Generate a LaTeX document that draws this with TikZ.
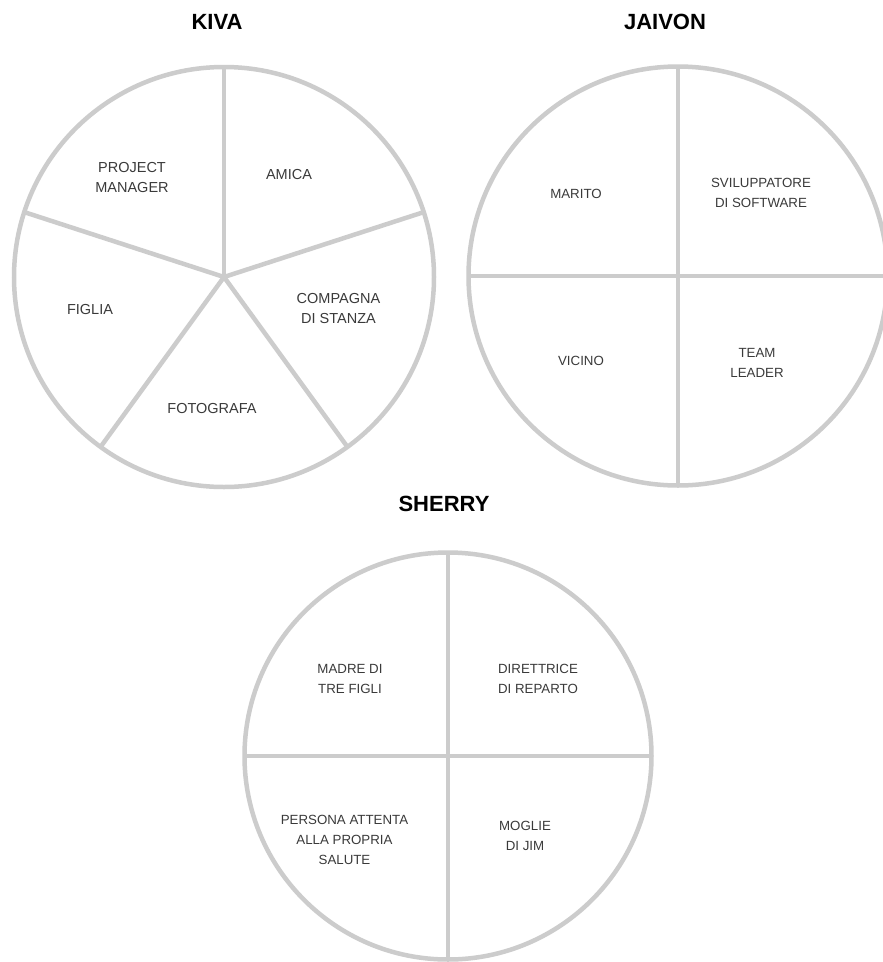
\documentclass[tikz,border=0pt]{standalone}
\usepackage{fontspec}
\usetikzlibrary{calc}
\setmainfont{Liberation Sans}
\definecolor{ringgray}{HTML}{CCCCCC}
\definecolor{labelgray}{HTML}{3A3A3A}
\tikzset{
  ring/.style={draw=ringgray, line width=4.5pt},
  spoke/.style={draw=ringgray, line width=4.5pt},
  titletext/.style={font=\fontsize{22}{26}\selectfont\bfseries, text=black, inner sep=0pt},
  biglabel/.style={font=\fontsize{14.5}{20}\selectfont, text=labelgray, align=center, inner sep=0pt},
  smalllabel/.style={font=\fontsize{13.3}{19.7}\selectfont, text=labelgray, align=center, inner sep=0pt}
}
\begin{document}
\begin{tikzpicture}[x=1pt,y=-1pt]
\useasboundingbox (0,0) rectangle (883,962);
\fill[white] (0,0) rectangle (883,962);
\begin{scope}
\clip (0,0) rectangle (883,962);
% KIVA
\coordinate (kc) at (224,277);
\draw[ring] (kc) circle[radius=210];
\coordinate (k1) at ($(kc)+(-90:210)$);
\coordinate (k2) at ($(kc)+(-18:210)$);
\coordinate (k3) at ($(kc)+(54:210)$);
\coordinate (k4) at ($(kc)+(126:210)$);
\coordinate (k5) at ($(kc)+(-162:210)$);
\foreach \p in {k1,k2,k3,k4,k5} \draw[spoke] (kc) -- (\p);
% JAIVON
\coordinate (jc) at (678,276);
\draw[ring] (jc) circle[radius=209.5];
\coordinate (j1) at ($(jc)+(-90:209.5)$);
\coordinate (j2) at ($(jc)+(0:209.5)$);
\coordinate (j3) at ($(jc)+(90:209.5)$);
\coordinate (j4) at ($(jc)+(180:209.5)$);
\draw[spoke] (j1) -- (j3);
\draw[spoke] (j4) -- (j2);
% SHERRY
\coordinate (sc) at (448,756);
\draw[ring] (sc) circle[radius=203.5];
\coordinate (s1) at ($(sc)+(-90:203.5)$);
\coordinate (s2) at ($(sc)+(0:203.5)$);
\coordinate (s3) at ($(sc)+(90:203.5)$);
\coordinate (s4) at ($(sc)+(180:203.5)$);
\draw[spoke] (s1) -- (s3);
\draw[spoke] (s4) -- (s2);
\end{scope}
% titles
\node[titletext] (tkiva) at (217,22) {KIVA};
\node[titletext] (tjaivon) at (665,22) {JAIVON};
\node[titletext] (tsherry) at (444,504) {SHERRY};
% Kiva labels
\node[biglabel] (kpm) at (132,178) {PROJECT\\MANAGER};
\node[biglabel] (kam) at (289,175) {AMICA};
\node[biglabel] (kcs) at (338.5,309) {COMPAGNA\\DI STANZA};
\node[biglabel] (kfi) at (90,310) {FIGLIA};
\node[biglabel] (kfo) at (212,409) {FOTOGRAFA};
% Jaivon labels
\node[smalllabel] (jma) at (576,194) {MARITO};
\node[smalllabel] (jsv) at (761,193) {SVILUPPATORE\\DI SOFTWARE};
\node[smalllabel] (jvi) at (581,361) {VICINO};
\node[smalllabel] (jtl) at (757,363) {TEAM\\LEADER};
% Sherry labels
\node[smalllabel] (smd) at (350,679) {MADRE DI\\TRE FIGLI};
\node[smalllabel] (sdr) at (538,679) {DIRETTRICE\\DI REPARTO};
\node[smalllabel] (spa) at (344.5,840) {PERSONA ATTENTA\\ALLA PROPRIA\\SALUTE};
\node[smalllabel] (smo) at (525,836) {MOGLIE\\DI JIM};
\end{tikzpicture}
\end{document}
